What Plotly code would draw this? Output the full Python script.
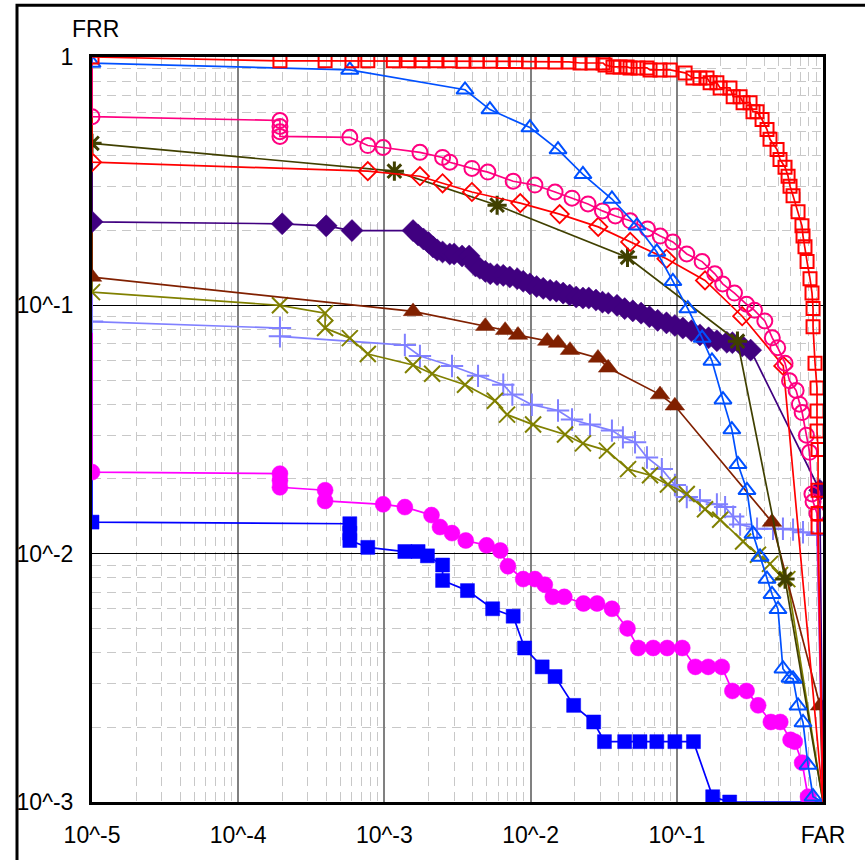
import plotly.graph_objects as go

# ---------------- data (FAR, FRR) ----------------
far_sq = [1e-5, 1.93e-4, 3.93e-4, 6.0e-4, 7.7e-4, 1.15e-3, 1.45e-3, 1.81e-3, 2.25e-3, 2.81e-3, 3.45e-3,
          4.3e-3, 5.3e-3, 6.5e-3, 7.9e-3, 9.75e-3, 1.2e-2, 1.47e-2, 1.83e-2, 2.18e-2, 2.63e-2, 3.13e-2,
          3.23e-2, 3.66e-2, 4.09e-2, 4.57e-2, 4.79e-2, 5.43e-2, 6.25e-2, 6.56e-2, 7.68e-2, 8.99e-2,
          0.114, 0.129, 0.144, 0.161, 0.169, 0.188, 0.198, 0.231, 0.243, 0.271, 0.284, 0.317, 0.332,
          0.354, 0.383, 0.414, 0.434, 0.485, 0.508, 0.55, 0.577, 0.595, 0.624, 0.675, 0.718, 0.73,
          0.753, 0.778, 0.815, 0.841, 0.855, 0.855, 0.882, 0.91, 0.91, 0.91, 0.925, 0.925, 0.925, 0.925, 1.0]
frr_sq = [1.0, 0.965, 0.965, 0.965, 0.965, 0.965, 0.965, 0.965, 0.965, 0.965, 0.962,
          0.962, 0.962, 0.96, 0.96, 0.958, 0.958, 0.955, 0.955, 0.946, 0.946, 0.946,
          0.929, 0.912, 0.912, 0.912, 0.904, 0.904, 0.904, 0.887, 0.887, 0.887,
          0.863, 0.824, 0.824, 0.824, 0.787, 0.787, 0.751, 0.751, 0.692, 0.692, 0.655, 0.655, 0.602,
          0.602, 0.56, 0.51, 0.466, 0.424, 0.387, 0.36, 0.331, 0.302, 0.276, 0.238, 0.209, 0.19,
          0.172, 0.15, 0.128, 0.112, 0.097, 0.082, 0.0585, 0.0465, 0.0375, 0.0312, 0.0263, 0.018, 0.0145, 0.0128, 0.001]

far_tri = [1e-5, 1e-5, 5.8e-4, 3.56e-3, 5.27e-3, 9.9e-3, 1.54e-2, 2.28e-2, 3.6e-2, 5.34e-2, 7.3e-2, 9.4e-2,
           0.119, 0.149, 0.174, 0.207, 0.238, 0.262, 0.302, 0.332, 0.371, 0.414, 0.448, 0.492, 0.532,
           0.595, 0.624, 0.675, 0.73, 0.79, 0.855, 1.0]
frr_tri = [1.0, 0.945, 0.887, 0.738, 0.614, 0.52, 0.424, 0.337, 0.268, 0.209, 0.164, 0.125,
           0.097, 0.0738, 0.0597, 0.0417, 0.0316, 0.0229, 0.018, 0.012, 0.0097, 0.0079, 0.00686, 0.00597, 0.00344,
           0.00316, 0.00313, 0.00244, 0.00209, 0.00141, 0.00105, 0.001]

far_circ = [1e-5, 1e-5, 1.93e-4, 1.93e-4, 1.93e-4, 1.93e-4, 5.8e-4, 7.7e-4, 9.8e-4, 1.75e-3, 2.5e-3, 2.8e-3,
            3.97e-3, 5.1e-3, 7.6e-3, 1.07e-2, 1.47e-2, 1.92e-2, 2.47e-2, 3.1e-2, 3.8e-2, 4.8e-2, 6.3e-2,
            7.7e-2, 9.4e-2, 0.117, 0.149, 0.182, 0.206, 0.248, 0.30, 0.34, 0.40, 0.45, 0.49, 0.55, 0.59,
            0.655, 0.69, 0.72, 0.77, 0.81, 0.84, 0.855, 0.91, 1.0]
frr_circ = [1.0, 0.575, 0.555, 0.525, 0.50, 0.479, 0.475, 0.44, 0.432, 0.413, 0.394, 0.377,
            0.356, 0.344, 0.316, 0.305, 0.286, 0.27, 0.256, 0.24, 0.229, 0.219, 0.203,
            0.19, 0.18, 0.161, 0.15, 0.134, 0.122, 0.112, 0.101, 0.0955, 0.0865, 0.074, 0.0675, 0.0585, 0.0497,
            0.0454, 0.040, 0.037, 0.030, 0.0256, 0.0174, 0.0162, 0.0145, 0.001]

far_dia = [1e-5, 1e-5, 7.7e-4, 1.75e-3, 2.5e-3, 3.97e-3, 8.5e-3, 1.58e-2, 2.9e-2, 4.8e-2, 8.5e-2, 0.156,
           0.28, 0.535, 1.0]
frr_dia = [1.0, 0.377, 0.347, 0.331, 0.31, 0.286, 0.258, 0.233, 0.207, 0.18, 0.154, 0.126,
           0.0904, 0.057, 0.001]

far_ast = [1e-5, 1e-5, 1.17e-3, 5.9e-3, 4.6e-2, 0.26, 0.55, 1.0]
frr_ast = [1.0, 0.449, 0.347, 0.253, 0.156, 0.0717, 0.0079, 0.001]

far_fdia = [1e-5, 1e-5, 2.0e-4, 4.0e-4, 6.0e-4, 1.57e-3, 1.7e-3, 1.85e-3, 2.0e-3, 2.15e-3, 2.3e-3, 2.5e-3,
            2.8e-3, 3.0e-3, 3.4e-3, 3.8e-3, 4.0e-3, 4.2e-3, 4.5e-3, 4.9e-3, 5.3e-3, 5.9e-3, 6.5e-3,
            7.2e-3, 8.1e-3, 8.9e-3, 9.9e-3, 1.1e-2, 1.22e-2, 1.36e-2, 1.5e-2, 1.67e-2, 1.85e-2, 2.05e-2,
            2.28e-2, 2.5e-2, 2.8e-2, 3.1e-2, 3.4e-2, 3.9e-2, 4.4e-2, 5.0e-2, 5.7e-2, 6.5e-2, 7.4e-2,
            8.5e-2, 9.7e-2, 0.11, 0.126, 0.144, 0.165, 0.188, 0.22, 0.24, 0.28, 0.32, 0.95, 1.0]
frr_fdia = [1.0, 0.217, 0.213, 0.209, 0.20, 0.20, 0.192, 0.185, 0.179, 0.172, 0.167, 0.164,
            0.161, 0.161, 0.158, 0.158, 0.150, 0.144, 0.141, 0.137, 0.134, 0.133, 0.132,
            0.130, 0.128, 0.125, 0.122, 0.119, 0.117, 0.115, 0.114, 0.112, 0.11, 0.108,
            0.107, 0.107, 0.105, 0.103, 0.102, 0.10, 0.097, 0.095, 0.093, 0.09, 0.087,
            0.085, 0.083, 0.081, 0.079, 0.076, 0.074, 0.072, 0.071, 0.0707, 0.0686, 0.066, 0.018, 0.001]

far_ftri = [1e-5, 1e-5, 1.57e-3, 4.9e-3, 6.7e-3, 8.2e-3, 1.3e-2, 1.54e-2, 1.86e-2, 2.89e-2, 3.39e-2,
            7.68e-2, 9.7e-2, 0.448, 0.955, 1.0]
frr_ftri = [1.0, 0.13, 0.0945, 0.0824, 0.0794, 0.0759, 0.0718, 0.0705, 0.066, 0.0614, 0.056,
            0.0437, 0.0394, 0.0134, 0.00244, 0.001]

far_x = [1e-5, 1e-5, 1.93e-4, 3.93e-4, 3.93e-4, 5.8e-4, 7.7e-4, 1.57e-3, 2.12e-3, 3.56e-3, 5.7e-3, 6.9e-3,
         1.04e-2, 1.72e-2, 2.28e-2, 3.33e-2, 4.64e-2, 6.56e-2, 8.7e-2, 0.117, 0.156, 0.198, 0.284,
         0.359, 0.434, 0.508, 0.57, 1.0]
frr_x = [1.0, 0.113, 0.10, 0.093, 0.081, 0.0738, 0.0637, 0.0575, 0.053, 0.0479, 0.0413, 0.0363,
         0.0331, 0.0302, 0.0278, 0.026, 0.0219, 0.0207, 0.019, 0.0174, 0.0151, 0.0137, 0.0112,
         0.0099, 0.0091, 0.0082, 0.0079, 0.001]

far_plus = [1e-5, 1e-5, 1.93e-4, 1.93e-4, 1.38e-3, 1.75e-3, 2.9e-3, 4.37e-3, 6.5e-3, 7.5e-3, 1.02e-2,
            1.54e-2, 1.92e-2, 2.55e-2, 3.6e-2, 4.28e-2, 5.18e-2, 6.25e-2, 7.9e-2, 9.7e-2, 0.117, 0.144,
            0.188, 0.214, 0.243, 0.271, 0.354, 0.455, 0.532, 0.624, 0.73, 0.91, 1.0]
frr_plus = [1.0, 0.086, 0.081, 0.075, 0.0692, 0.0625, 0.057, 0.052, 0.0479, 0.0437, 0.0398,
            0.0377, 0.0347, 0.0331, 0.0313, 0.0294, 0.0281, 0.0244, 0.0219, 0.0189, 0.0169, 0.0164,
            0.0158, 0.0154, 0.0141, 0.0131, 0.0126, 0.0126, 0.0126, 0.0125, 0.0122, 0.0119, 0.001]

far_fcirc = [1e-5, 1e-5, 1.93e-4, 1.93e-4, 1.93e-4, 3.93e-4, 3.93e-4, 9.8e-4, 1.38e-3, 2.1e-3, 2.4e-3, 2.9e-3,
             3.6e-3, 5.0e-3, 6.2e-3, 7.0e-3, 8.9e-3, 1.07e-2, 1.25e-2, 1.42e-2, 1.7e-2, 2.3e-2, 2.85e-2,
             3.6e-2, 4.6e-2, 5.45e-2, 6.9e-2, 8.6e-2, 0.109, 0.134, 0.164, 0.203, 0.24, 0.30, 0.36, 0.44,
             0.51, 0.60, 0.64, 0.72, 0.79, 1.0]
frr_fcirc = [1.0, 0.0213, 0.021, 0.0197, 0.0185, 0.018, 0.0163, 0.0158, 0.0154, 0.0143, 0.0128, 0.0121,
             0.0113, 0.0108, 0.0103, 0.0089, 0.0079, 0.0079, 0.0075, 0.0067, 0.0067, 0.0063, 0.0063,
             0.006, 0.005, 0.00417, 0.00417, 0.00417, 0.00417, 0.0035, 0.0035, 0.0035, 0.0028, 0.0028, 0.00245, 0.0021,
             0.0021, 0.00178, 0.00175, 0.00144, 0.00105, 0.001]

far_fsq = [1e-5, 1e-5, 5.8e-4, 5.8e-4, 5.8e-4, 7.7e-4, 1.38e-3, 1.7e-3, 1.97e-3, 2.5e-3, 2.5e-3, 3.7e-3,
           5.5e-3, 7.6e-3, 9.1e-3, 1.2e-2, 1.47e-2, 1.97e-2, 2.7e-2, 3.2e-2, 4.4e-2, 5.6e-2, 7.3e-2,
           9.7e-2, 0.13, 0.176, 0.23, 1.0]
frr_fsq = [1.0, 0.0134, 0.0132, 0.0121, 0.0113, 0.0106, 0.0102, 0.0102, 0.0098, 0.009, 0.0078, 0.0071,
           0.0060, 0.0056, 0.00417, 0.0035, 0.0032, 0.00245, 0.0021, 0.00175, 0.00175, 0.00175, 0.00175,
           0.00175, 0.00175, 0.00105, 0.001, 0.001]

x_tickvals = [1e-5, 1e-4, 1e-3, 1e-2, 1e-1, 1]
x_ticktext = ["10^-5", "10^-4", "10^-3", "10^-2", "10^-1", "FAR"]
y_tickvals = [1e-3, 1e-2, 1e-1, 1]
y_ticktext = ["10^-3", "10^-2", "10^-1", "1"]

# ---------------- styling ----------------
FONT = "Liberation Sans, Arial, sans-serif"
FS = 23


def sizes(n, s, hide_first=True, hide_last=True):
    out = [s] * n
    if hide_first:
        out[0] = 0
    if hide_last:
        out[-1] = 0
    return out


series = [
    # (far, frr, color, symbol, size, marker line width, hide_first)
    (far_fsq, frr_fsq, "#0000FF", "square", 14, 0, True),
    (far_fcirc, frr_fcirc, "#FF00FF", "circle", 16, 0, True),
    (far_plus, frr_plus, "#8080FF", "cross-thin-open", 16, 2, True),
    (far_x, frr_x, "#808000", "x-thin-open", 16, 2, True),
    (far_ftri, frr_ftri, "#802000", "triangle-up", 17, 0, True),
    (far_fdia, frr_fdia, "#400080", "diamond", 17, 0, True),
    (far_ast, frr_ast, "#404000", "asterisk-open", 16, 3, True),
    (far_dia, frr_dia, "#FF0000", "diamond-open", 14, 1.8, True),
    (far_circ, frr_circ, "#FF0080", "circle-open", 15, 2, True),
    (far_tri, frr_tri, "#0050FF", "triangle-up-open", 15, 2, True),
    (far_sq, frr_sq, "#FF0000", "square-open", 13, 2, False),
]

fig = go.Figure()
for far, frr, col, sym, sz, lw, hf in series:
    n = len(far)
    if sym.endswith("open"):
        marker = dict(symbol=sym, size=sizes(n, sz, hf), color=col, opacity=1,
                      line=dict(color=col, width=lw))
    else:
        marker = dict(symbol=sym, size=sizes(n, sz, hf), color=col, opacity=1,
                      line=dict(color=col, width=0.5))
    fig.add_trace(go.Scatter(x=far, y=frr, mode="lines+markers", opacity=1,
                             line=dict(color=col, width=1.7), marker=marker,
                             showlegend=False, hoverinfo="skip"))

minor_x = [m * 10 ** e for e in range(-5, 0) for m in range(2, 10)]
minor_y = [m * 10 ** e for e in range(-3, 0) for m in range(2, 10)]

fig.update_xaxes(type="log", range=[-5, 0], tickvals=x_tickvals, ticktext=x_ticktext,
                 showgrid=True, gridcolor="#808080", gridwidth=1.5,
                 minor=dict(tickvals=minor_x, showgrid=True, gridcolor="#C8C8C8",
                            griddash="9px,6px", gridwidth=1, ticks=""),
                 showline=True, linecolor="black", linewidth=3, mirror=True,
                 ticks="", ticklabelstandoff=10, zeroline=False,
                 tickfont=dict(family=FONT, size=FS, color="black"))
fig.update_yaxes(type="log", range=[-3, 0], tickvals=y_tickvals, ticktext=y_ticktext,
                 showgrid=True, gridcolor="black", gridwidth=1,
                 minor=dict(tickvals=minor_y, showgrid=True, gridcolor="#C8C8C8",
                            griddash="9px,6px", gridwidth=1, ticks=""),
                 showline=True, linecolor="black", linewidth=3, mirror=True,
                 ticks="", ticklabelstandoff=11, zeroline=False,
                 tickfont=dict(family=FONT, size=FS, color="black"))

W, H = 865, 860
L, R, T, B = 92, 42, 57, 53
pw, ph = W - L - R, H - T - B

fig.add_annotation(text="FRR", xref="paper", yref="paper",
                   x=(95 - L) / pw, y=(H - B - 29) / ph, xanchor="center", yanchor="middle",
                   showarrow=False, font=dict(family=FONT, size=FS, color="black"))

# outer frame
fig.add_shape(type="rect", xref="paper", yref="paper",
              x0=(17 - L) / pw, x1=(880 - L) / pw, y0=(H - B - 880) / ph, y1=(H - B - 5) / ph,
              line=dict(color="black", width=3), fillcolor="rgba(0,0,0,0)")

fig.update_layout(width=W, height=H, margin=dict(l=L, r=R, t=T, b=B),
                  paper_bgcolor="white", plot_bgcolor="white", showlegend=False)

fig.write_html("out.html")
